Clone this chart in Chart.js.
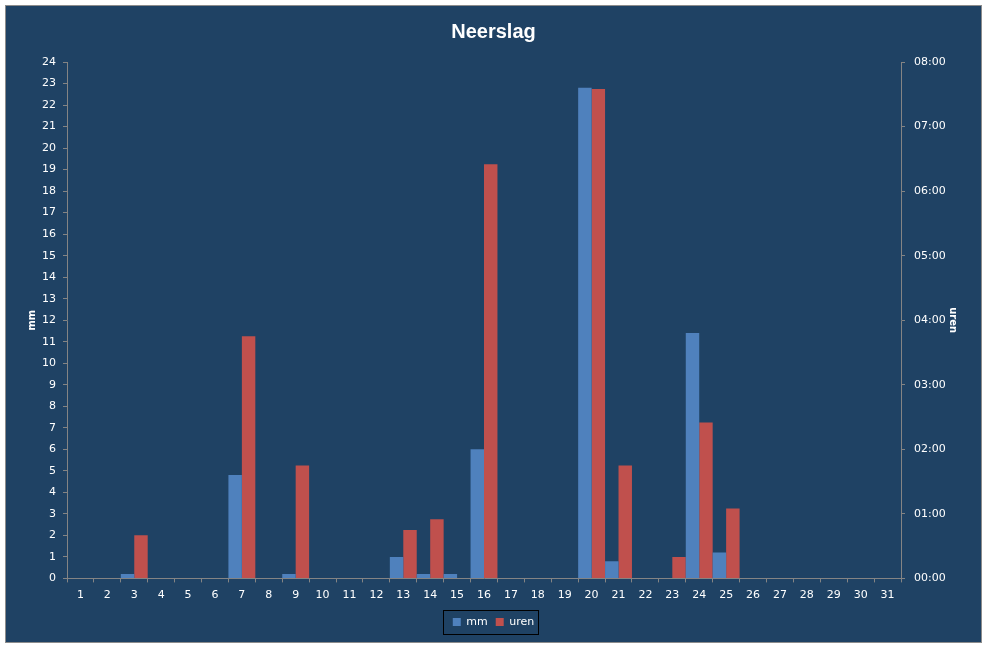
<!DOCTYPE html>
<html>
<head>
<meta charset="utf-8">
<title>Neerslag</title>
<script src="https://cdn.jsdelivr.net/npm/chart.js@4"></script>
<style>
    body { margin: 0; background: #ffffff; }
    #box {
        position: absolute; left: 5px; top: 5px;
        width: 975px; height: 636px;
        border: 1px solid #8c8c8c;
        background: #1f4264;
    }
    canvas { display: block; }
</style>
</head>
<body>
<div id="box"><canvas id="myChart" width="975" height="636"></canvas></div>
<script>
// days of the month
const days = ['1','2','3','4','5','6','7','8','9','10','11','12','13','14','15','16',
              '17','18','19','20','21','22','23','24','25','26','27','28','29','30','31'];

// precipitation in mm
const mm = [0, 0, 0.2, 0, 0, 0, 4.8, 0, 0.2, 0, 0, 0, 1.0, 0.2, 0.2, 6.0,
            0, 0, 0, 22.8, 0.8, 0, 0, 11.4, 1.2, 0, 0, 0, 0, 0, 0];

// duration of precipitation, in minutes
const urenMinutes = [0, 0, 40, 0, 0, 0, 225, 0, 105, 0, 0, 0, 45, 55, 0, 385,
                     0, 0, 0, 455, 105, 0, 20, 145, 65, 0, 0, 0, 0, 0, 0];

// right axis tick labels (one per hour)
const urenTicks = ['00:00','01:00','02:00','03:00','04:00','05:00','06:00','07:00','08:00'];

const axisColor = '#848484';
const tickFont = { family: 'DejaVu Sans', size: 11 };

// draw a thin black frame round the legend
const legendFrame = {
    id: 'legendFrame',
    afterDraw(chart) {
        const boxes = chart.legend.legendHitBoxes;
        if (!boxes || !boxes.length) return;
        const left = Math.min(...boxes.map(b => b.left)) - 10;
        const right = Math.max(...boxes.map(b => b.left + b.width)) + 4;
        const mid = boxes[0].top + boxes[0].height / 2;
        const ctx = chart.ctx;
        ctx.save();
        ctx.strokeStyle = '#000000';
        ctx.lineWidth = 1;
        ctx.strokeRect(Math.round(left) + 0.5, Math.round(mid - 12) + 0.5,
                       Math.round(right - left), 24);
        ctx.restore();
    }
};

new Chart(document.getElementById('myChart'), {
    type: 'bar',
    data: {
        labels: days,
        datasets: [{
            label: 'mm',
            data: mm,
            backgroundColor: '#4f81bd',
            yAxisID: 'y',
            categoryPercentage: 1.0,
            barPercentage: 1.0,
            inflateAmount: 0
        }, {
            label: 'uren',
            data: urenMinutes,
            backgroundColor: '#c0504d',
            yAxisID: 'y1',
            categoryPercentage: 1.0,
            barPercentage: 1.0,
            inflateAmount: 0
        }]
    },
    options: {
        responsive: false,
        animation: false,
        devicePixelRatio: 1,
        layout: { padding: { left: 0, right: 0, top: 0, bottom: 4.6 } },
        plugins: {
            title: {
                display: true,
                text: 'Neerslag',
                color: '#ffffff',
                font: { family: 'Liberation Sans', size: 20, weight: 'bold' },
                padding: { top: 14, bottom: 18 }
            },
            legend: {
                position: 'bottom',
                labels: {
                    color: '#ffffff',
                    font: tickFont,
                    boxWidth: 8,
                    boxHeight: 8,
                    padding: 8
                }
            },
            tooltip: { enabled: false }
        },
        scales: {
            x: {
                grid: { display: true, drawOnChartArea: false, color: axisColor, tickLength: 4, offset: true },
                border: { color: axisColor },
                ticks: { color: '#ffffff', font: tickFont, maxRotation: 0, autoSkip: false, padding: 6 },
                afterFit(scale) { scale.height = 30; }
            },
            y: {
                position: 'left',
                min: 0,
                max: 24,
                ticks: { stepSize: 1, color: '#ffffff', font: tickFont, padding: 7 },
                grid: { drawOnChartArea: false, color: axisColor, tickLength: 4 },
                border: { color: axisColor },
                title: {
                    display: true,
                    text: 'mm',
                    color: '#ffffff',
                    font: { family: 'DejaVu Sans', size: 10, weight: 'bold' },
                    padding: { top: 20, bottom: 0 }
                },
                afterFit(scale) { scale.width = 61; }
            },
            y1: {
                position: 'right',
                min: 0,
                max: 480,
                ticks: {
                    stepSize: 60,
                    color: '#ffffff',
                    font: tickFont,
                    padding: 9,
                    callback: (value) => urenTicks[value / 60]
                },
                grid: { drawOnChartArea: false, color: axisColor, tickLength: 4 },
                border: { color: axisColor },
                title: {
                    display: true,
                    text: 'uren',
                    color: '#ffffff',
                    font: { family: 'DejaVu Sans', size: 10, weight: 'bold' },
                    padding: { top: 22, bottom: 0 }
                },
                afterFit(scale) { scale.width = 80; }
            }
        }
    },
    plugins: [legendFrame]
});
</script>
</body>
</html>
